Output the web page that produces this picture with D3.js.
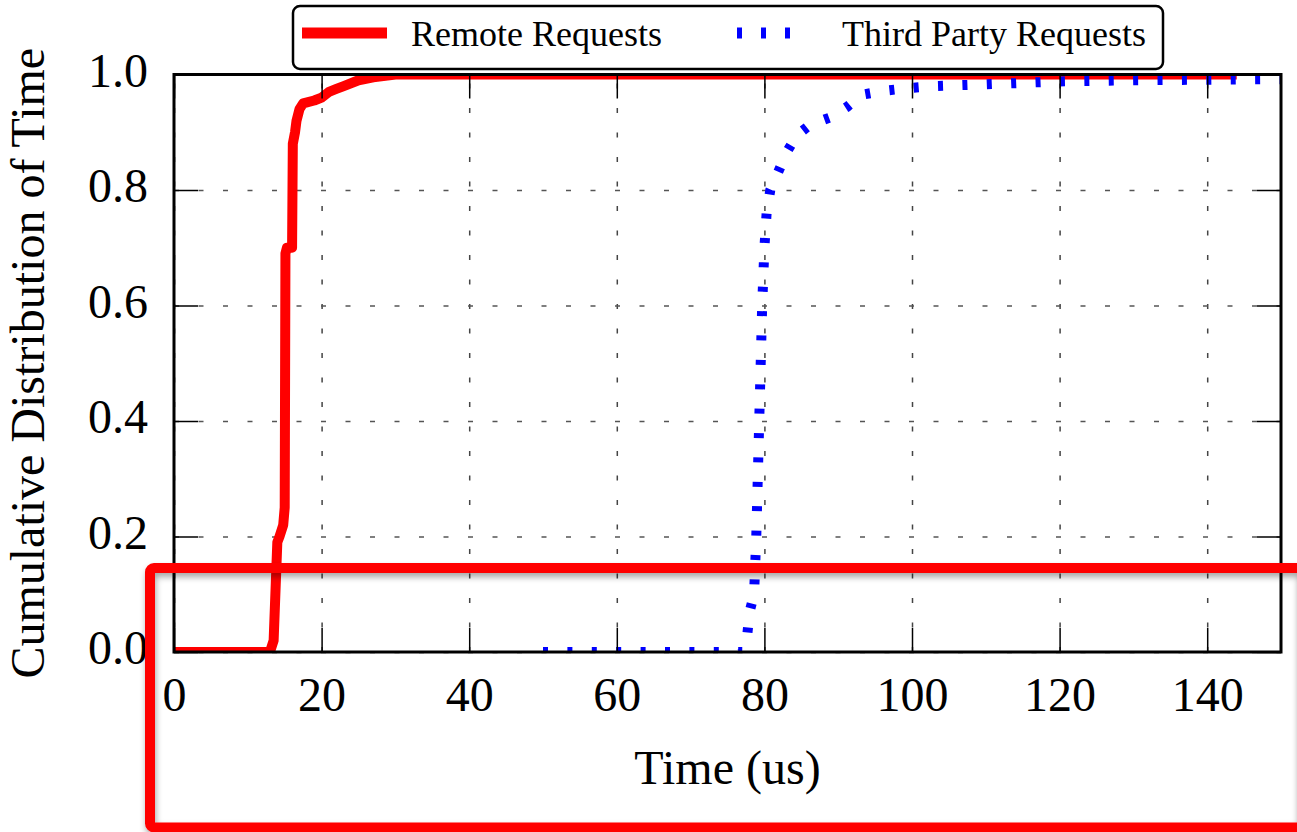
<!DOCTYPE html>
<html>
<head>
<meta charset="utf-8">
<script src="https://cdn.jsdelivr.net/npm/d3@7"></script>
<style>
  body { margin: 0; background: #fff; }
  svg { display: block; font-family: "Liberation Serif", "Times New Roman", serif; }
</style>
</head>
<body>
<div id="chart"></div>
<script>
// CDF of request time (us)
const remoteX = [0, 13, 13.5, 14, 14.3, 14.8, 15, 15.1, 15.3, 16, 16.1, 16.4, 16.6, 17, 17.5, 19, 20, 21, 22, 23, 25, 27, 30, 144];
const remoteY = [0, 0, 0.02, 0.19, 0.2, 0.22, 0.25, 0.69, 0.7, 0.7, 0.88, 0.9, 0.92, 0.94, 0.95, 0.955, 0.96, 0.97, 0.975, 0.98, 0.99, 0.995, 1.0, 1.0];

const thirdX = [50, 77, 77.6, 78, 78.6, 78.9, 79.3, 79.7, 80, 80.3, 80.8, 82, 83, 84.4, 86.2, 89, 91.2, 93.2, 96.3, 100, 103, 110, 120, 130, 150];
const thirdY = [0, 0, 0.02, 0.07, 0.1, 0.2, 0.4, 0.6, 0.7, 0.76, 0.8, 0.835, 0.865, 0.895, 0.913, 0.926, 0.944, 0.965, 0.972, 0.977, 0.98, 0.983, 0.988, 0.99, 0.992];

const xTicks = [0, 20, 40, 60, 80, 100, 120, 140];
const yTicks = [0, 0.2, 0.4, 0.6, 0.8, 1.0];
const seriesNames = ["Remote Requests", "Third Party Requests"];

const W = 1297, H = 832;
const pl = 174, pt = 74.5, pr = 1281, pb = 652;

const svg = d3.select("#chart").append("svg")
    .attr("width", W)
    .attr("height", H);

const defs = svg.append("defs");
defs.append("clipPath").attr("id", "plotclip")
    .append("rect")
    .attr("x", pl).attr("y", pt)
    .attr("width", pr - pl).attr("height", pb - pt);
defs.append("filter").attr("id", "shadow")
    .attr("x", "-5%").attr("y", "-5%").attr("width", "110%").attr("height", "110%")
    .append("feDropShadow")
    .attr("dx", 1).attr("dy", 4).attr("stdDeviation", 3)
    .attr("flood-color", "#000").attr("flood-opacity", 0.35);

const x = d3.scaleLinear().domain([0, 150]).range([pl, pr]);
const y = d3.scaleLinear().domain([0, 1]).range([pb, pt]);

// grid
svg.append("g")
    .attr("transform", `translate(0,${pb})`)
    .call(d3.axisBottom(x).tickValues(xTicks).tickSize(-(pb - pt)).tickFormat(""))
    .call(g => g.select(".domain").remove())
    .selectAll("line")
    .attr("stroke", "#444").attr("stroke-width", 1.5).attr("stroke-dasharray", "5,19.5");

svg.append("g")
    .attr("transform", `translate(${pl},0)`)
    .call(d3.axisLeft(y).tickValues(yTicks).tickSize(-(pr - pl)).tickFormat(""))
    .call(g => g.select(".domain").remove())
    .selectAll("line")
    .attr("stroke", "#555").attr("stroke-width", 1.5).attr("stroke-dasharray", "5,19.5");

// lines
const line = d3.line()
    .x(d => x(d[0]))
    .y(d => y(d[1]));

const plot = svg.append("g").attr("clip-path", "url(#plotclip)");

plot.append("path")
    .datum(remoteX.map((v, i) => [v, remoteY[i]]))
    .attr("d", line)
    .attr("fill", "none")
    .attr("stroke", "#ff0000")
    .attr("stroke-width", 10)
    .attr("stroke-linejoin", "round");

plot.append("path")
    .datum(thirdX.map((v, i) => [v, thirdY[i]]))
    .attr("d", line)
    .attr("fill", "none")
    .attr("stroke", "#0000ff")
    .attr("stroke-width", 10)
    .attr("stroke-dasharray", "5,19.4");

// ticks (inward, all four sides)
function tickStyle(g) {
    g.select(".domain").remove();
    g.selectAll("line").attr("stroke", "#000").attr("stroke-width", 1.5);
    g.selectAll("text").attr("fill", "#000").attr("font-size", 48)
        .attr("font-family", "Liberation Serif, Times New Roman, serif");
}

svg.append("g")
    .attr("transform", `translate(0,${pb})`)
    .call(d3.axisBottom(x).tickValues(xTicks).tickSize(-24).tickPadding(25).tickFormat(d3.format("d")))
    .call(tickStyle);

svg.append("g")
    .attr("transform", `translate(0,${pt})`)
    .call(d3.axisTop(x).tickValues(xTicks).tickSize(-24).tickFormat(""))
    .call(tickStyle);

svg.append("g")
    .attr("transform", `translate(${pl},0)`)
    .call(d3.axisLeft(y).tickValues(yTicks).tickSize(-24).tickPadding(26).tickFormat(d3.format(".1f")))
    .call(tickStyle)
    .selectAll("text").attr("dy", "0.24em");

svg.append("g")
    .attr("transform", `translate(${pr},0)`)
    .call(d3.axisRight(y).tickValues(yTicks).tickSize(-24).tickFormat(""))
    .call(tickStyle);

// frame
svg.append("rect")
    .attr("x", pl).attr("y", pt)
    .attr("width", pr - pl).attr("height", pb - pt)
    .attr("fill", "none").attr("stroke", "#000").attr("stroke-width", 3);

// axis titles
svg.append("text")
    .attr("x", (pl + pr) / 2).attr("y", 784)
    .attr("text-anchor", "middle")
    .attr("font-size", 48)
    .text("Time (us)");

svg.append("text")
    .attr("transform", `translate(44,${(pt + pb) / 2}) rotate(-90)`)
    .attr("text-anchor", "middle")
    .attr("font-size", 48)
    .text("Cumulative Distribution of Time");

// legend
const legend = svg.append("g");
legend.append("rect")
    .attr("x", 293).attr("y", 6)
    .attr("width", 870).attr("height", 63)
    .attr("rx", 7)
    .attr("fill", "#fff").attr("stroke", "#000").attr("stroke-width", 2.5);

legend.append("line")
    .attr("x1", 302).attr("x2", 387).attr("y1", 33).attr("y2", 33)
    .attr("stroke", "#ff0000").attr("stroke-width", 11);
legend.append("text")
    .attr("x", 411).attr("y", 46)
    .attr("font-size", 36)
    .text(seriesNames[0]);

legend.append("line")
    .attr("x1", 737).attr("x2", 792).attr("y1", 33).attr("y2", 33)
    .attr("stroke", "#0000ff").attr("stroke-width", 11)
    .attr("stroke-dasharray", "5,19");
legend.append("text")
    .attr("x", 842).attr("y", 46)
    .attr("font-size", 36)
    .text(seriesNames[1]);

// red highlight box over the x axis
svg.append("rect")
    .attr("x", 150).attr("y", 568)
    .attr("width", 1152).attr("height", 259.5)
    .attr("rx", 4)
    .attr("fill", "none")
    .attr("stroke", "#ff0000").attr("stroke-width", 10)
    .attr("filter", "url(#shadow)");
</script>
</body>
</html>
